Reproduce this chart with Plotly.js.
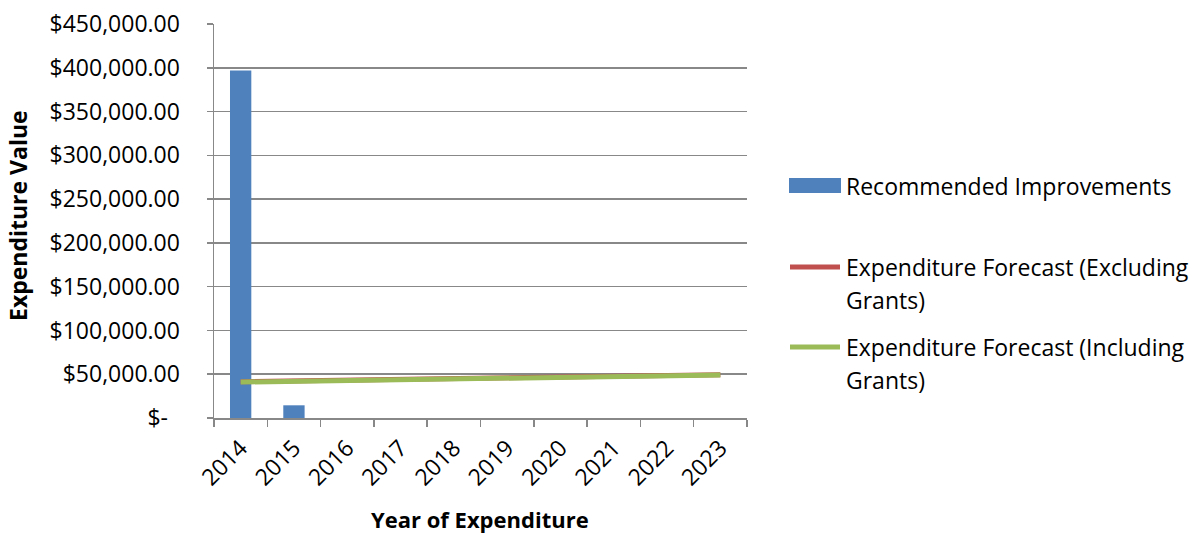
<!DOCTYPE html>
<html>
<head>
<meta charset="utf-8">
<script src="https://cdn.plot.ly/plotly-3.0.1.min.js"></script>
<style>html,body{margin:0;padding:0;background:#fff;}#chart{width:1201px;height:533px;}</style>
</head>
<body>
<div id="chart"></div>
<script>
// ---- data ----
const years = ["2014","2015","2016","2017","2018","2019","2020","2021","2022","2023"];
const recommendedImprovements = [397000, 14500, 0, 0, 0, 0, 0, 0, 0, 0];
const forecastExcludingGrants = [41400, 42200, 43000, 43900, 44800, 45700, 46600, 47500, 48500, 49500];
const forecastIncludingGrants = [41000, 41800, 42600, 43500, 44400, 45300, 46200, 47100, 48000, 49100];
const yTickValues = [0, 50000, 100000, 150000, 200000, 250000, 300000, 350000, 400000, 450000];
const yTickLabels = ["$-\u00A0\u00A0", "$50,000.00", "$100,000.00", "$150,000.00", "$200,000.00",
                     "$250,000.00", "$300,000.00", "$350,000.00", "$400,000.00", "$450,000.00"];
const seriesNames = ["Recommended Improvements", "Expenditure Forecast (Excluding Grants)", "Expenditure Forecast (Including Grants)"];

const BLUE = "#4F81BD", RED = "#C0504D", GREEN = "#9BBB59", GRID = "#888888";
const FONT = "Open Sans, sans-serif";

// plot area in pixels
const L = 214, R = 747, T = 24, B = 418, W = 1201, H = 533;
const px = x => (x - L) / (R - L);
const py = y => (B - y) / (B - T);

const traces = [
  {type: "bar", x: years, y: recommendedImprovements, name: seriesNames[0],
   marker: {color: BLUE, line: {width: 0}}, showlegend: false},
  {type: "scatter", mode: "lines", x: years, y: forecastExcludingGrants, name: seriesNames[1],
   line: {color: RED, width: 5}, showlegend: false},
  {type: "scatter", mode: "lines", x: years, y: forecastIncludingGrants, name: seriesNames[2],
   line: {color: GREEN, width: 5}, showlegend: false}
];

const legendFont = {family: FONT, size: 23, color: "#000"};
const annotations = [
  {text: "Expenditure Value", xref: "paper", yref: "paper", x: px(18), y: py(216), textangle: -90,
   showarrow: false, xanchor: "center", yanchor: "middle", font: {family: FONT, size: 23, color: "#000", weight: "bold"}},
  {text: "Year of Expenditure", xref: "paper", yref: "paper", x: px(480), y: py(519),
   showarrow: false, xanchor: "center", yanchor: "middle", font: {family: FONT, size: 22, color: "#000", weight: "bold"}},
  {text: "Recommended Improvements", xref: "paper", yref: "paper", x: px(844), y: py(186),
   showarrow: false, xanchor: "left", yanchor: "middle", font: legendFont},
  {text: "Expenditure Forecast (Excluding", xref: "paper", yref: "paper", x: px(844), y: py(267),
   showarrow: false, xanchor: "left", yanchor: "middle", font: legendFont},
  {text: "Grants)", xref: "paper", yref: "paper", x: px(844), y: py(300),
   showarrow: false, xanchor: "left", yanchor: "middle", font: legendFont},
  {text: "Expenditure Forecast (Including", xref: "paper", yref: "paper", x: px(844), y: py(347),
   showarrow: false, xanchor: "left", yanchor: "middle", font: legendFont},
  {text: "Grants)", xref: "paper", yref: "paper", x: px(844), y: py(380),
   showarrow: false, xanchor: "left", yanchor: "middle", font: legendFont}
];

const shapes = [
  {type: "rect", xref: "paper", yref: "paper", x0: px(789), x1: px(841), y0: py(193), y1: py(178),
   fillcolor: BLUE, line: {width: 0}},
  {type: "line", xref: "paper", yref: "paper", x0: px(790), x1: px(840), y0: py(267), y1: py(267),
   line: {color: RED, width: 5}},
  {type: "line", xref: "paper", yref: "paper", x0: px(790), x1: px(840), y0: py(347), y1: py(347),
   line: {color: GREEN, width: 5}}
];

const layout = {
  width: W, height: H,
  margin: {l: L, r: W - R, t: T, b: H - B, pad: 0},
  paper_bgcolor: "#fff", plot_bgcolor: "#fff",
  showlegend: false,
  bargap: 0.6,
  font: {family: FONT, size: 22, color: "#000"},
  xaxis: {
    type: "category", range: [-0.5, 9.5], automargin: false,
    showline: true, linecolor: GRID, linewidth: 1.5,
    showgrid: false, ticks: "outside", ticklen: 7, tickcolor: GRID, tickwidth: 1.5,
    tickson: "boundaries", tickangle: -45, ticklabelstandoff: 6,
    tickfont: {family: FONT, size: 23, color: "#000"}
  },
  yaxis: {
    range: [0, 450000], automargin: false,
    tickvals: yTickValues, ticktext: yTickLabels,
    showline: true, linecolor: GRID, linewidth: 1.5,
    showgrid: true, gridcolor: GRID, gridwidth: 1.5,
    ticks: "outside", ticklen: 6, tickcolor: GRID, tickwidth: 1.5,
    ticklabelstandoff: 22, zeroline: false,
    tickfont: {family: FONT, size: 23, color: "#000"}
  },
  annotations: annotations,
  shapes: shapes
};

Plotly.newPlot("chart", traces, layout, {staticPlot: true, displayModeBar: false});
</script>
</body>
</html>
